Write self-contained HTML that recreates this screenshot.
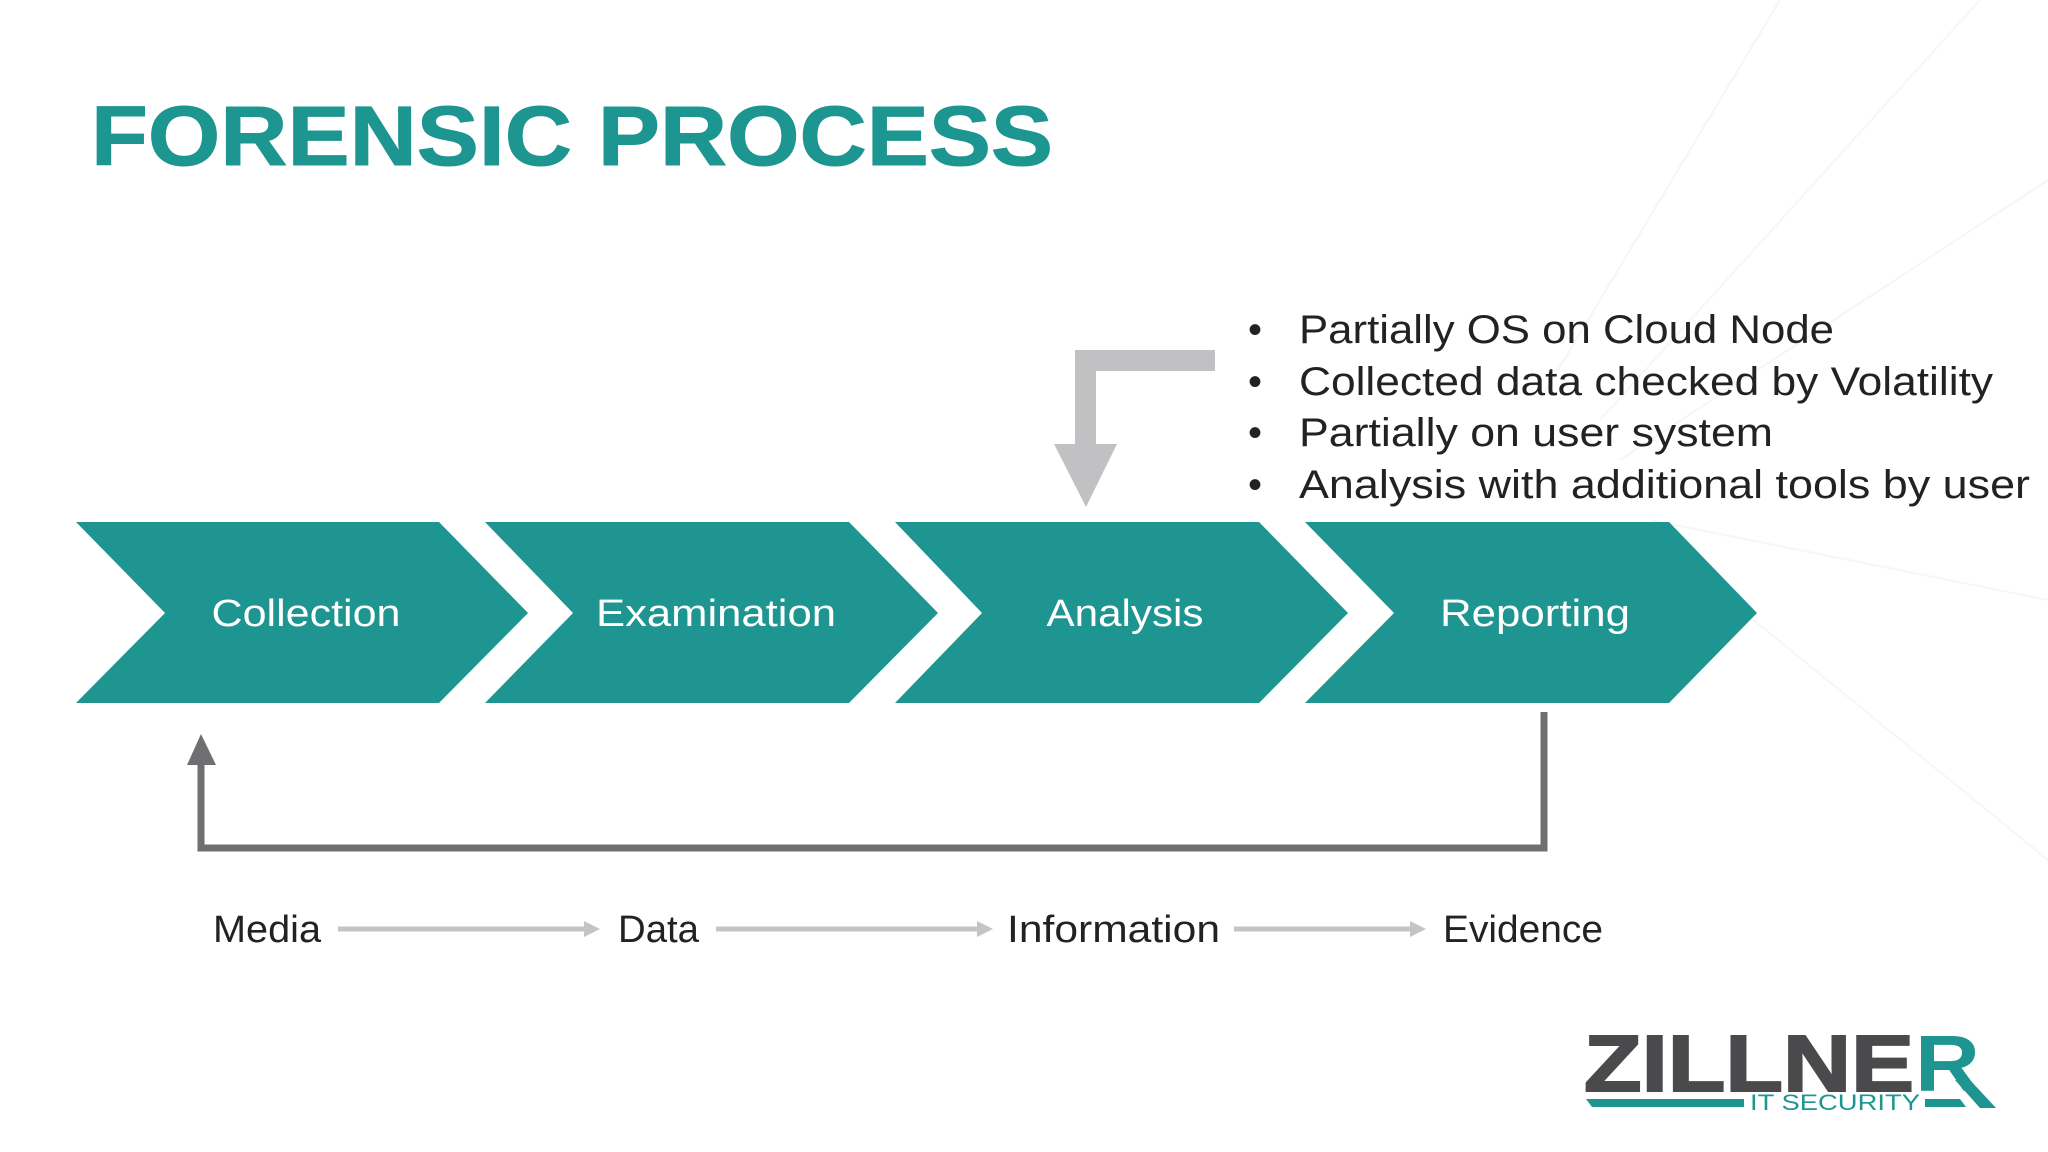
<!DOCTYPE html>
<html><head><meta charset="utf-8"><style>
html,body{margin:0;padding:0;background:#fff;}
svg{display:block;}
</style></head><body>
<svg width="2048" height="1152" viewBox="0 0 2048 1152" xmlns="http://www.w3.org/2000/svg">
<rect width="2048" height="1152" fill="#ffffff"/>
<g stroke="#f6f6f7" stroke-width="2" fill="none">
<line x1="1780" y1="0" x2="1540" y2="400"/>
<line x1="1980" y1="0" x2="1600" y2="420"/>
<line x1="2048" y1="180" x2="1620" y2="460"/>
<line x1="2048" y1="600" x2="1650" y2="520"/>
<line x1="2048" y1="860" x2="1680" y2="560"/>
</g>
<text x="91" y="165" font-family="Liberation Sans, sans-serif" font-size="84" font-weight="bold" fill="#1d9590" stroke="#1d9590" stroke-width="1" textLength="962" lengthAdjust="spacingAndGlyphs">FORENSIC PROCESS</text>

<g fill="#1e9590">
<polygon points="76,522 439,522 528,613 439,703 76,703 165,613"/>
<polygon points="485,522 849,522 938,613 849,703 485,703 573,613"/>
<polygon points="895,522 1259,522 1348,613 1259,703 895,703 982,613"/>
<polygon points="1305,522 1669,522 1757,613 1669,703 1305,703 1394,613"/>
</g>
<g font-family="Liberation Sans, sans-serif" font-size="38" fill="#ffffff" text-anchor="middle">
<text x="306" y="626" textLength="189" lengthAdjust="spacingAndGlyphs">Collection</text>
<text x="716" y="626" textLength="240" lengthAdjust="spacingAndGlyphs">Examination</text>
<text x="1125" y="626" textLength="157" lengthAdjust="spacingAndGlyphs">Analysis</text>
<text x="1535" y="626" textLength="190" lengthAdjust="spacingAndGlyphs">Reporting</text>
</g>

<g fill="#c1c1c3">
<rect x="1075" y="350" width="140" height="21"/>
<rect x="1075" y="350" width="21" height="96"/>
<polygon points="1054,444 1117,444 1086,507"/>
</g>

<g font-family="Liberation Sans, sans-serif" font-size="40" fill="#222">
<text x="1248" y="343">•</text>
<text x="1299" y="343" textLength="535" lengthAdjust="spacingAndGlyphs">Partially OS on Cloud Node</text>
<text x="1248" y="395">•</text>
<text x="1299" y="395" textLength="694" lengthAdjust="spacingAndGlyphs">Collected data checked by Volatility</text>
<text x="1248" y="446">•</text>
<text x="1299" y="446" textLength="474" lengthAdjust="spacingAndGlyphs">Partially on user system</text>
<text x="1248" y="498">•</text>
<text x="1299" y="498" textLength="731" lengthAdjust="spacingAndGlyphs">Analysis with additional tools by user</text>
</g>

<g stroke="#6f6f71" stroke-width="7" fill="none">
<polyline points="1544,712 1544,848 201,848 201,760"/>
</g>
<polygon points="187,765 216,765 201,734" fill="#6f6f71"/>

<g stroke="#c4c4c6" stroke-width="5">
<line x1="338" y1="929" x2="590" y2="929"/>
<line x1="716" y1="929" x2="985" y2="929"/>
<line x1="1234" y1="929" x2="1418" y2="929"/>
</g>
<g fill="#c4c4c6">
<polygon points="584,921 600,929 584,937"/>
<polygon points="977,921 993,929 977,937"/>
<polygon points="1410,921 1426,929 1410,937"/>
</g>
<g font-family="Liberation Sans, sans-serif" font-size="38" fill="#222">
<text x="213" y="942" textLength="108" lengthAdjust="spacingAndGlyphs">Media</text>
<text x="618" y="942" textLength="81" lengthAdjust="spacingAndGlyphs">Data</text>
<text x="1007" y="942" textLength="213" lengthAdjust="spacingAndGlyphs">Information</text>
<text x="1443" y="942" textLength="160" lengthAdjust="spacingAndGlyphs">Evidence</text>
</g>

<text x="1584" y="1091" font-family="Liberation Sans, sans-serif" font-size="80" font-weight="bold" fill="#4a4a4c" stroke="#4a4a4c" stroke-width="2" textLength="330" lengthAdjust="spacingAndGlyphs">ZILLNE</text>
<text x="1915" y="1091" font-family="Liberation Sans, sans-serif" font-size="80" font-weight="bold" fill="#1e9590" textLength="65" lengthAdjust="spacingAndGlyphs">R</text>
<polygon points="1955,1080 1970,1080 1996,1108 1980,1108" fill="#1e9590"/>
<g fill="#1e9590">
<polygon points="1586,1099 1744,1099 1744,1107 1592,1107"/>
<polygon points="1925,1099 1960,1099 1966,1107 1925,1107"/>
</g>
<text x="1750" y="1110" font-family="Liberation Sans, sans-serif" font-size="22" fill="#1e9590" textLength="170" lengthAdjust="spacingAndGlyphs">IT SECURITY</text>
</svg>
</body></html>
